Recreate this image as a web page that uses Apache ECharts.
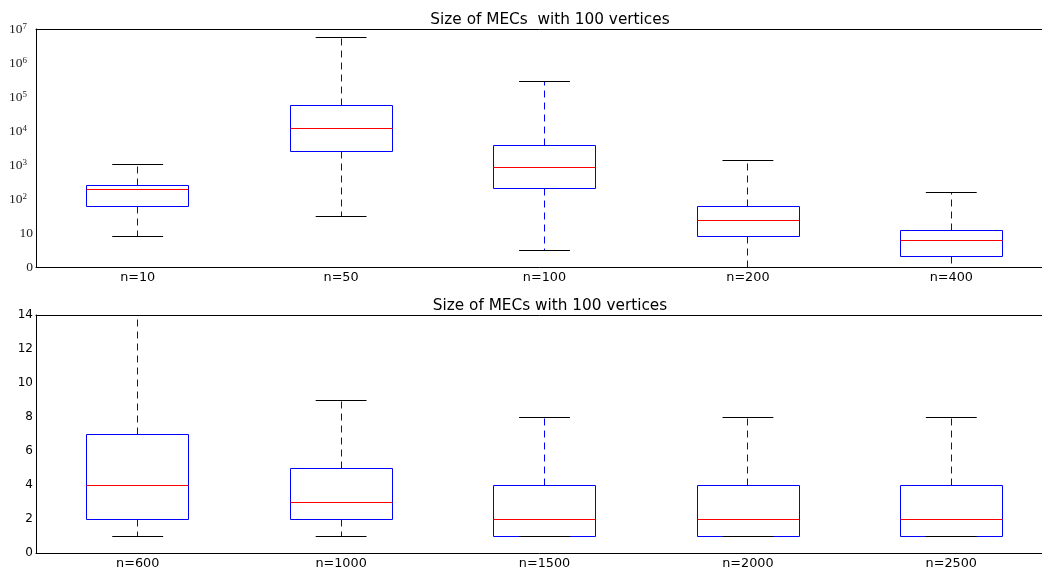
<!DOCTYPE html>
<html>
<head>
<meta charset="utf-8">
<script src="https://cdn.jsdelivr.net/npm/echarts@6/dist/echarts.min.js"></script>
<style>html,body{margin:0;padding:0;background:#fff}#c{width:1042px;height:567px}</style>
</head>
<body>
<div id="c"></div>
<script>
// ---- data ----
const titleTop = 'Size of MECs  with 100 vertices';
const titleBottom = 'Size of MECs with 100 vertices';
const categoriesTop = ['n=10', 'n=50', 'n=100', 'n=200', 'n=400'];
// [min, q1, median, q3, max] of MEC size (log scale)
const statsTop = [
  [8, 62, 186, 250, 1020],
  [30, 2500, 12000, 55000, 5500000],
  [3, 210, 870, 3700, 280000],
  [1, 8, 23, 62, 1400],
  [1, 2, 6, 12, 160]
];
const categoriesBottom = ['n=600', 'n=1000', 'n=1500', 'n=2000', 'n=2500'];
const statsBottom = [
  [1, 2, 4, 7, 14],
  [1, 2, 3, 5, 9],
  [1, 1, 2, 4, 8],
  [1, 1, 2, 4, 8],
  [1, 1, 2, 4, 8]
];
const yTicksBottom = [0, 2, 4, 6, 8, 10, 12, 14];

// ---- chart ----
const chart = echarts.init(document.getElementById('c'), null, {renderer: 'canvas'});
const sans = 'DejaVu Sans';

function snap(v) { return Math.round(v - 0.5) + 0.5; }

function renderBox(params, api) {
  const i = api.value(0);
  const v = [api.value(1), api.value(2), api.value(3), api.value(4), api.value(5)];
  const band = api.size([1, 0])[0];
  const bw = band * 0.5, cw = band * 0.25;
  const xr = api.coord([i, v[2]])[0];
  const x = snap(xr);
  const y = v.map(val => snap(api.coord([i, val])[1]));
  const dashed = () => ({stroke: '#0000ff', lineWidth: 1, lineDash: [7, 5], fill: null});
  const solid = (c) => ({stroke: c, lineWidth: 1, fill: null});
  const bl = snap(xr - bw / 2), bwr = Math.round(bw);
  return {
    type: 'group',
    children: [
      {type: 'line', shape: {x1: x, y1: y[1], x2: x, y2: y[0]}, style: dashed()},
      {type: 'line', shape: {x1: x, y1: y[3], x2: x, y2: y[4]}, style: dashed()},
      {type: 'rect', shape: {x: bl, y: y[3], width: bwr, height: y[1] - y[3]}, style: solid('#0000ff')},
      {type: 'line', shape: {x1: bl, y1: y[2], x2: bl + bwr, y2: y[2]}, style: solid('#ff0000')},
      {type: 'line', shape: {x1: xr - cw / 2, y1: y[0], x2: xr + cw / 2, y2: y[0]}, style: solid('#000000')},
      {type: 'line', shape: {x1: xr - cw / 2, y1: y[4], x2: xr + cw / 2, y2: y[4]}, style: solid('#000000')}
    ]
  };
}

function xAxes(cats, gridIndex) {
  const base = {
    type: 'category', data: cats, gridIndex: gridIndex, boundaryGap: true,
    axisLine: {lineStyle: {color: '#000', width: 1}},
    axisTick: {inside: true, length: 4, alignWithLabel: true, lineStyle: {color: '#000'}},
    splitLine: {show: false}
  };
  return [
    Object.assign({}, base, {position: 'bottom', axisLabel: {color: '#000', fontFamily: sans, fontSize: 12.8, margin: 4}}),
    Object.assign({}, base, {position: 'top', axisLabel: {show: false}})
  ];
}

function logLabel(v) {
  const e = Math.round(Math.log10(v));
  if (e === 0) return '0';
  if (e === 1) return '10';
  return '10{s|' + e + '}';
}

const titleStyle = {fontFamily: sans, fontSize: 15.3, fontWeight: 'normal', color: '#000'};

const option = {
  animation: false,
  backgroundColor: '#fff',
  title: [
    {text: titleTop, left: 545, top: 8, textAlign: 'center', textStyle: titleStyle},
    {text: titleBottom, left: 545, top: 294, textAlign: 'center', textStyle: titleStyle}
  ],
  grid: [
    {left: 36, width: 1017, top: 29, height: 238, outerBoundsMode: 'none', containLabel: false},
    {left: 36, width: 1017, top: 315, height: 238, outerBoundsMode: 'none', containLabel: false}
  ],
  xAxis: [].concat(xAxes(categoriesTop, 0), xAxes(categoriesBottom, 1)),
  yAxis: [
    {type: 'log', logBase: 10, min: 1, max: 1e7, gridIndex: 0,
     axisLine: {show: true, lineStyle: {color: '#000'}},
     axisTick: {inside: true, length: 4, lineStyle: {color: '#000'}},
     splitLine: {show: false},
     axisLabel: {formatter: logLabel, color: '#222', fontFamily: 'Liberation Serif', fontSize: 13.5, margin: 3,
       rich: {s: {fontSize: 9, fontFamily: 'Liberation Serif', color: '#222', verticalAlign: 'top', lineHeight: 8, padding: [0, 6, 6, 0]}}}},
    {type: 'value', min: yTicksBottom[0], max: yTicksBottom[yTicksBottom.length - 1], interval: 2, gridIndex: 1,
     axisLine: {show: true, lineStyle: {color: '#000'}},
     axisTick: {inside: true, length: 4, lineStyle: {color: '#000'}},
     splitLine: {show: false},
     axisLabel: {color: '#000', fontFamily: sans, fontSize: 12, margin: 3}}
  ],
  series: [
    {type: 'custom', xAxisIndex: 0, yAxisIndex: 0, renderItem: renderBox, clip: false,
     encode: {x: 0, y: [1, 2, 3, 4, 5]},
     data: statsTop.map((s, i) => [i].concat(s))},
    {type: 'custom', xAxisIndex: 2, yAxisIndex: 1, renderItem: renderBox, clip: false,
     encode: {x: 0, y: [1, 2, 3, 4, 5]},
     data: statsBottom.map((s, i) => [i].concat(s))}
  ]
};
chart.setOption(option);
</script>
</body>
</html>
